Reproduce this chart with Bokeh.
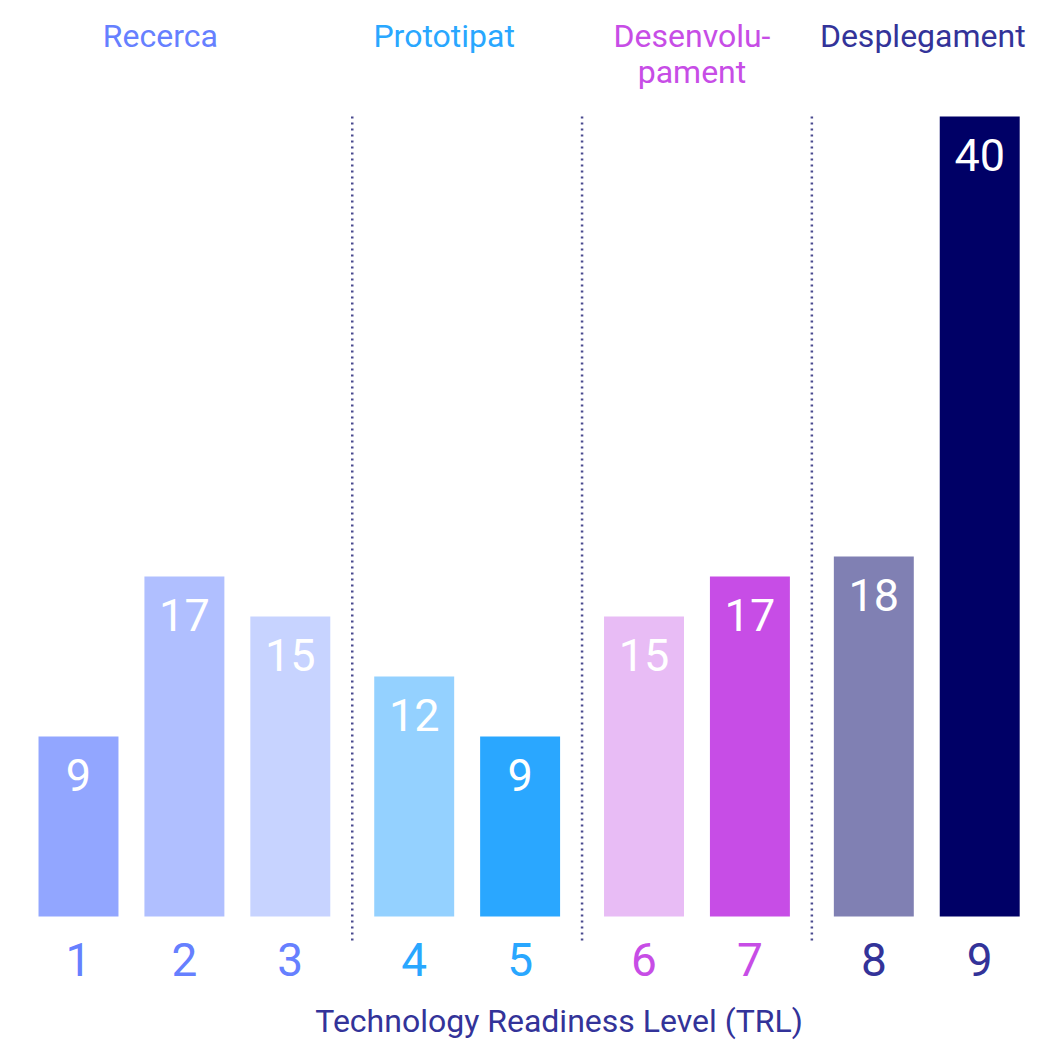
from bokeh.plotting import figure
from bokeh.models import Range1d, ColumnDataSource
from bokeh.core.properties import value
from bokeh.embed import file_html
from bokeh.resources import INLINE

# ---- data ----
levels = ["1", "2", "3", "4", "5", "6", "7", "8", "9"]
counts = [9, 17, 15, 12, 9, 15, 17, 18, 40]
level_group = [0, 0, 0, 1, 1, 2, 2, 3, 3]
group_names = ["Recerca", "Prototipat", "Desenvolu-\npament", "Desplegament"]
axis_title = "Technology Readiness Level (TRL)"

# ---- styles / layout ----
bar_colors = ["#92a6ff", "#b0bfff", "#c7d3ff", "#94d1ff", "#2aa7ff",
              "#e8bcf5", "#c74de6", "#8080b3", "#000066"]
group_colors = ["#6680ff", "#29a7ff", "#c74de6", "#333399"]
label_nudge_px = [-24, -23, -5, -4]   # horizontal nudge of group titles
FONT = "Roboto"
GAP = 0.17          # extra space between groups (in bar-slot units)
BAR_W = 0.755

xs = [i + GAP * g for i, g in enumerate(level_group)]
group_x = []
for g in range(len(group_names)):
    members = [x for x, gg in zip(xs, level_group) if gg == g]
    group_x.append(sum(members) / len(members))
sep_x = [(xs[i] + xs[i + 1]) / 2 for i in range(len(xs) - 1) if level_group[i] != level_group[i + 1]]

p = figure(width=1030, height=1045, output_backend="svg", toolbar_location=None,
           x_range=Range1d(-0.7365, 8.9895), y_range=Range1d(-6.45, 45.8),
           min_border=0, outline_line_color=None)
p.axis.visible = False
p.grid.visible = False
p.background_fill_color = "white"
p.border_fill_color = "white"

src = ColumnDataSource(dict(x=xs, top=counts, color=bar_colors, label=[str(c) for c in counts],
                            level=levels, tcolor=[group_colors[g] for g in level_group]))

p.vbar(x="x", top="top", bottom=0, width=BAR_W, fill_color="color", line_color=None, source=src)

# value labels inside bars
p.text(x="x", y="top", text="label", source=src, text_color="white",
       text_font=value(FONT), text_font_size="45px", text_align="center",
       text_baseline="middle", y_offset=38)

# level numbers
p.text(x="x", y=0, text="level", source=src, text_color="tcolor",
       text_font=value(FONT), text_font_size="46px", text_align="center",
       text_baseline="alphabetic", y_offset=43)

# separators
p.segment(x0=sep_x, x1=sep_x, y0=[max(counts)] * len(sep_x), y1=[-1.3] * len(sep_x),
          line_color="#4a4a8f", line_width=2.5, line_dash="2 4")

# group titles (one row per text line)
gx, gt, gc, go, gy = [], [], [], [], []
for g, name in enumerate(group_names):
    for k, line in enumerate(name.split("\n")):
        gx.append(group_x[g]); gt.append(line); gc.append(group_colors[g])
        go.append(label_nudge_px[g]); gy.append(-81 + 36 * k)
gsrc = ColumnDataSource(dict(x=gx, text=gt, color=gc, xo=go, yo=gy, y=[max(counts)] * len(gx)))
p.text(x="x", y="y", text="text", source=gsrc, text_color="color",
       text_font=value(FONT), text_font_size="32px", text_align="center",
       text_baseline="alphabetic", x_offset="xo", y_offset="yo")

# axis title
p.text(x=[sum(xs) / len(xs)], y=[0], text=[axis_title], text_color="#333399",
       text_font=value(FONT), text_font_size="32px", text_align="center",
       text_baseline="alphabetic", x_offset=33, y_offset=104)

open("out.html", "w").write(file_html(p, INLINE))
